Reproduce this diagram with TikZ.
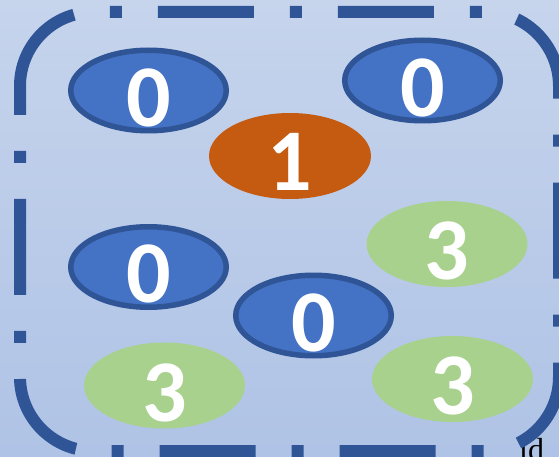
\documentclass[tikz,border=0pt]{standalone}
\usepackage{fontspec}
\setmainfont{Carlito}
\newfontfamily\serifid{Liberation Serif}
\usetikzlibrary{shapes.geometric}
\definecolor{bgtop}{HTML}{C6D4EC}
\definecolor{bgbot}{HTML}{AFC3E6}
\definecolor{frameblue}{HTML}{2F5597}
\definecolor{fillblue}{HTML}{4472C4}
\definecolor{fillorange}{HTML}{C55A11}
\definecolor{fillgreen}{HTML}{A9D18E}
\begin{document}
\begin{tikzpicture}[x=1pt,y=-1pt,
  ell/.style={ellipse, inner sep=0pt, outer sep=0pt},
  blueell/.style={ell, fill=fillblue, draw=frameblue, line width=5.5pt, minimum width=155.5pt, minimum height=80.5pt},
  orangeell/.style={ell, fill=fillorange, minimum width=162pt, minimum height=86pt},
  greenell/.style={ell, fill=fillgreen, minimum width=161pt, minimum height=86pt},
  digit/.style={text=white, font=\bfseries\fontsize{88}{88}\selectfont, inner sep=0pt},
  frameline/.style={draw=frameblue, line width=12pt, dash pattern=on 96pt off 36pt on 12pt off 36pt}
]
\useasboundingbox (0,0) rectangle (559,457);
\fill[top color=bgtop, bottom color=bgbot] (0,0) rectangle (559,457);

\node[blueell] (e1) at (148.5,90.5) {};
\node[blueell] (e2) at (422.5,80.5) {};
\node[orangeell] (e3) at (290,156) {};
\node[greenell] (e4) at (447,244) {};
\node[blueell] (e5) at (148.5,267) {};
\node[blueell] (e6) at (313.5,315.5) {};
\node[greenell] (e7) at (164.5,385.5) {};
\node[greenell] (e8) at (452.5,379) {};

\node[digit] (t1) at ([yshift=-7pt]e1.center) {0};
\node[digit] (t2) at ([yshift=-7pt]e2.center) {0};
\node[digit] (t3) at ([yshift=-6pt]e3.center) {1};
\node[digit] (t4) at ([yshift=-7pt]e4.center) {3};
\node[digit] (t5) at ([yshift=-7pt]e5.center) {0};
\node[digit] (t6) at ([yshift=-7pt]e6.center) {0};
\node[digit] (t7) at ([yshift=-7pt]e7.center) {3};
\node[digit] (t8) at ([yshift=-7pt]e8.center) {3};

\node[anchor=base west, inner sep=0pt, font=\serifid\fontsize{32}{32}\selectfont] (idtext) at (519,460) {id};

\draw[frameline] (20,86) arc[start angle=180, end angle=270, radius=74]
  -- (485,12) arc[start angle=270, end angle=360, radius=74]
  -- (559,377) arc[start angle=0, end angle=90, radius=74]
  -- (94,451) arc[start angle=90, end angle=180, radius=74]
  -- cycle;
\end{tikzpicture}
\end{document}
